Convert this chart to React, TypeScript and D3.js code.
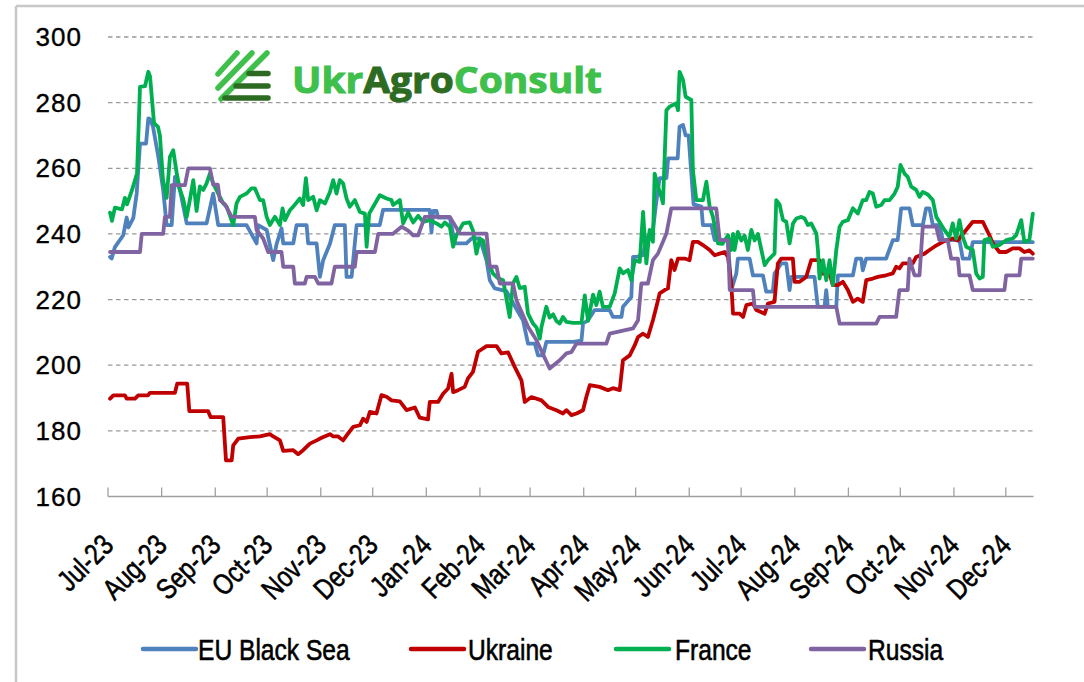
import React from 'react';
import * as d3 from 'd3';

// ---------- data ----------
const START = Date.UTC(2023, 6, 1);
const END = Date.UTC(2024, 11, 17);
const DAY = 86400000;

const seriesNames = ['EU Black Sea', 'Ukraine', 'France', 'Russia'];
const seriesColors = ['#4f81bd', '#c00000', '#00b050', '#8064a2'];
const yTicks = [160, 180, 200, 220, 240, 260, 280, 300];

// [days since 1 Jul 2023, USD/t]
const euBlackSea: [number, number][] = [
  [1.2, 233], [2.1, 232.5], [4, 236], [8.8, 239.6], [10.8, 245], [11.8, 242], [14.6, 244.8], [16.6, 252.4],
  [18.5, 267.5], [22, 267.5], [23.3, 275.2], [24.3, 275], [26, 272.7], [29.1, 263.5], [31.9, 253.4], [33.9, 242.7],
  [36.8, 242.7], [38.7, 257.4], [41.6, 253.4], [45.5, 243.2], [57, 243.2], [60.8, 252.3], [63.7, 242.7], [80.1, 242.7],
  [85.9, 237.1], [86.8, 242.7], [91.7, 241.2], [95.5, 232], [97.5, 237], [100.3, 241.7], [101.3, 237.1], [107.1, 237.1],
  [109, 242.7], [114.8, 242.7], [115.7, 237.1], [120.6, 237.1], [122.5, 226.9], [124.4, 232], [128.3, 237], [131.1, 242.7],
  [136.9, 242.7], [137.9, 226.9], [140.8, 226.9], [143.7, 242.7], [157.1, 242.7], [159, 247.3], [186, 247.3], [187, 240.5],
  [188, 247], [189.9, 247], [190.8, 245], [197.6, 245], [200.5, 237.1], [207.2, 237.1], [210.1, 238.6], [214.9, 238.6],
  [218.8, 232], [220.7, 225.9], [223.6, 223.4], [230.3, 222.6], [233.2, 219.8], [239.9, 213.7], [242.8, 206.6], [246.7, 206.6],
  [248.6, 203], [251.5, 203], [253.4, 207.1], [268.8, 207.1], [273.7, 207.5], [274.6, 212.7], [277.5, 213.7], [281.3, 216.8],
  [290, 216.8], [291.9, 214.7], [296.8, 214.7], [297.7, 217.8], [302.5, 220.8], [303.5, 233], [305.4, 233], [309.3, 233.5],
  [311.2, 238.6], [315, 241.2], [317, 250], [318.9, 257], [322.8, 257], [323.8, 263], [329.3, 263], [330.4, 272.7],
  [332.4, 273.2], [333.9, 270], [335.6, 270], [337.2, 258.4], [338.5, 249], [343, 248.3], [343.9, 242.7], [348.8, 242.7],
  [350.7, 238.1], [358.3, 238.1], [360.3, 222.9], [363.2, 227.9], [364.1, 232.5], [370.9, 232.5], [372.8, 227.4], [378.6, 227.4],
  [380.5, 222.4], [384.3, 222.4], [385.3, 227.9], [389.2, 231], [392.1, 231], [394, 222.9], [395, 226.9], [408.4, 226.9],
  [410.3, 217.8], [414.2, 217.8], [415.2, 222.9], [416.1, 217.8], [421, 217.8], [421.9, 227.4], [430.6, 227.4], [432.5, 232.5],
  [435.4, 232.5], [436.3, 228.9], [438.3, 232.5], [449.8, 232.5], [453.7, 238.1], [456.5, 238.1], [458.5, 247.8], [463.3, 247.8],
  [465.2, 242.7], [471, 242.7], [472.9, 247.8], [474.9, 247.8], [476.8, 242.7], [480.6, 242.7], [482.6, 238.1], [492.2, 238.1],
  [494.1, 232.5], [498, 232.5], [499.9, 237.5], [534.6, 237.5],
];

const ukraine: [number, number][] = [
  [1.2, 189.8], [3.1, 190.8], [9.8, 190.8], [10.8, 189.8], [15.6, 189.8], [17.5, 190.8], [23.1, 190.8], [24.3, 191.6],
  [38.7, 191.6], [40, 194.4], [45.8, 194.4], [47, 186], [57.9, 186], [59.3, 184.2], [66.6, 184.2], [68.2, 171],
  [71.5, 171], [72.4, 175.6], [75.3, 177.6], [82, 178.1], [87.8, 178.3], [93.6, 179], [95.5, 178.3], [99.4, 177.1],
  [101.3, 173.9], [107.1, 174.1], [109.9, 172.9], [112.8, 174.1], [116.7, 176.1], [120.6, 177.1], [123.5, 177.9], [128.3, 179],
  [130.2, 178.3], [133, 178.3], [135.9, 177.1], [138.8, 179.2], [141.7, 181.2], [145.6, 181.7], [147.5, 183.7], [149.5, 182.7],
  [151.4, 185.8], [155.2, 185.3], [158.1, 190.9], [161, 190.4], [163.9, 189.3], [168.7, 189], [172.6, 186.3], [177.4, 187.1],
  [180.2, 184], [185, 183.5], [186, 188.8], [190.8, 188.8], [193.7, 191.3], [196.6, 192.9], [198.6, 197.4], [199.5, 191.8],
  [202.4, 192.4], [206.2, 193.4], [208.1, 196], [211, 198], [213.9, 204.1], [218.8, 205.8], [224.6, 205.8], [227.4, 203.6],
  [231.3, 203.9], [235.1, 199.5], [239, 195.4], [240.9, 188.8], [244.8, 190.3], [250.6, 189.3], [254.4, 187.3], [259.2, 186.3],
  [263, 185.3], [265, 186.3], [267.9, 184.8], [270.8, 185.3], [274.6, 186.3], [276.5, 190.3], [278.5, 193.9], [284.2, 193.4],
  [289, 192.4], [291.9, 193], [295.8, 192.4], [297.7, 201.5], [301.6, 203], [304.5, 206.1], [306.4, 208.6], [309.3, 209.6],
  [312.1, 208.6], [315, 213.7], [317, 217.8], [318.9, 221.9], [321.8, 222.9], [323.7, 223.4], [325.6, 232], [327.5, 229],
  [329.5, 232.5], [333.3, 232.5], [336.2, 232], [338.1, 237.6], [341, 237.6], [343.9, 236.6], [347.8, 235.1], [350.7, 233.5],
  [353.6, 234], [356.5, 234.5], [358.4, 233], [360.3, 224.9], [361.3, 215.7], [365.1, 215.7], [367.1, 214.7], [369, 218.3],
  [372.8, 218.8], [374.8, 216.8], [379.6, 215.7], [381.5, 218.8], [385.3, 219.3], [387.2, 231], [389.2, 232.5], [395.9, 232.5],
  [396.9, 225.4], [399.8, 225.4], [403.6, 226.9], [406.5, 232], [411.3, 232], [412.3, 227.9], [417.1, 228], [419, 224.4],
  [421.9, 224.4], [424.8, 225.4], [427.7, 222.9], [430.6, 219.3], [433.4, 220.3], [436.3, 219.3], [438.3, 225.9], [442.1, 226.4],
  [445, 226.9], [449.8, 227.4], [453.7, 228], [455.6, 230], [457.5, 229.5], [459.4, 231], [465.2, 231], [467.2, 233],
  [472, 234], [474.9, 235.1], [477.7, 236.1], [482.6, 237.6], [488.3, 238.6], [491.1, 238], [495.1, 240.6], [499.9, 243.7],
  [505.7, 243.7], [509.5, 239.6], [511.5, 237.1], [515.3, 234.5], [519.2, 234.5], [523, 235.6], [526.9, 235.6], [529.7, 234.5],
  [532.6, 235], [534.6, 234],
];

const france: [number, number][] = [
  [1.2, 246.5], [2.3, 244], [4, 248], [8.1, 247.5], [9.8, 251], [11, 249], [13.9, 253.4], [16.8, 258.5],
  [18.5, 284.8], [21.4, 285], [23.3, 289.4], [24.3, 288], [26.6, 273.8], [28.9, 272.6], [30, 270], [31.8, 256.4],
  [33.9, 251], [35.8, 263.5], [37.7, 265.5], [39.7, 258.6], [41.6, 253.4], [43.5, 250.6], [45.5, 245.2], [47.4, 250.6],
  [49.3, 256.4], [51.2, 247], [53.1, 254.5], [55.1, 253.4], [57, 255.4], [58.9, 258.4], [60.8, 255.4], [63.7, 252.3],
  [66.6, 249.3], [68.6, 248.3], [72.4, 242.7], [74.3, 249.3], [76.3, 251.3], [80.1, 252.3], [83, 253.9], [84.9, 253.9],
  [87.8, 250.3], [89.7, 250.3], [91.7, 245.2], [93.6, 242.7], [96.5, 245.2], [99.4, 242.7], [100.9, 247.8], [102.3, 244.2],
  [105.1, 247.2], [107.1, 248.3], [110.9, 250.8], [112.8, 248.8], [114.4, 257], [115.7, 250.3], [118.6, 251.3], [120.6, 247.2],
  [122.5, 250.3], [125.4, 249.3], [128.3, 252.8], [130.2, 256.4], [132.1, 252.3], [134, 256.4], [135.9, 255.4], [137.9, 250.8],
  [139.8, 248.3], [142.7, 250.3], [145.6, 246.7], [148.5, 246.2], [149.5, 236.1], [151, 246.2], [153.3, 248.3], [157.1, 251.8],
  [161, 250.8], [163.9, 250.3], [164.8, 248.8], [168.7, 250.3], [170.6, 243.2], [173.5, 246.5], [176.4, 243.5], [179.3, 245.5],
  [182.1, 243.7], [186, 244.2], [189.9, 243.2], [192.8, 242.2], [194.7, 243.5], [197.6, 242.2], [199.5, 236.1], [201.4, 239.6],
  [205.3, 243.2], [209.1, 243.5], [211, 241], [213, 234], [214.9, 238.5], [216.8, 238], [219.7, 231.5], [222.6, 227.9],
  [225.5, 226.5], [228.4, 225.9], [232.2, 214.7], [234.1, 224.9], [236.1, 226.9], [238, 223.5], [240.9, 223.9], [242.8, 215.7],
  [245.7, 212.7], [247.7, 211.5], [249.6, 208.1], [250.6, 211.7], [253.4, 217.8], [255.3, 214.5], [257.3, 215.5], [259.2, 213.5],
  [261.1, 212.7], [263, 214.7], [265, 213.2], [268.8, 212.9], [273.7, 212.9], [275.6, 221.3], [277.5, 213.5], [280.4, 221.5],
  [282.3, 218.3], [284.2, 222.4], [286.1, 217.8], [290, 217.8], [292.9, 221.9], [295.8, 229.5], [297.7, 228], [300.6, 229],
  [302.5, 225.9], [304.5, 232], [307.4, 231.5], [309.3, 246.7], [311.2, 231], [313.1, 241.2], [315, 237.6], [316, 258.4],
  [317.9, 254.4], [319.9, 251.3], [320.8, 249.3], [322.8, 277.7], [324.7, 278.8], [328.5, 279.8], [329.5, 277.7], [330.4, 289.4],
  [332.4, 286.9], [333.9, 281.8], [337.2, 280.8], [338.1, 259.5], [340.1, 250.3], [343.9, 250.3], [345.9, 255.9], [347.8, 248.3],
  [349.7, 245.2], [352.6, 237.1], [355.3, 237], [358.4, 239.6], [360.3, 235.1], [361.3, 240], [362.2, 235.1], [364.1, 240.6],
  [366.1, 238], [368, 239.5], [369.9, 235.1], [371.9, 241.2], [373.8, 238], [375.7, 240], [377.7, 235.1], [379.6, 230.5],
  [381.5, 232], [385.3, 234], [386.3, 250.3], [388.2, 249], [390.2, 244.2], [392.1, 243.7], [394, 237.1], [396, 243.2],
  [397.9, 244.7], [400.8, 245.2], [402.7, 244.7], [404.6, 242.7], [406.5, 243.2], [409.5, 240.1], [410.4, 235], [411.3, 226.4],
  [413.3, 232], [415.2, 225.9], [417.1, 232], [419, 224.4], [421, 235.1], [422.9, 242.2], [424.8, 243.7], [427.7, 244.2],
  [430.6, 247.8], [433.4, 246.2], [436.3, 250.3], [438.3, 250.3], [440.2, 252.8], [442.1, 252.3], [444.1, 248.3], [447, 248.8],
  [448.9, 250.3], [451.8, 250.3], [454.7, 252.3], [456.5, 254.4], [458.1, 261], [460.4, 258.4], [462.3, 257.4], [464.3, 254.4],
  [467.2, 253.4], [469.1, 251.3], [471, 252.8], [473.9, 252], [476.8, 250.3], [478.8, 245.2], [480.6, 243.7], [483.5, 241.2],
  [486.4, 239.1], [488.3, 243.2], [490.3, 238.6], [492.2, 244.2], [494.1, 239.1], [496.1, 236.1], [499.9, 235.1], [501.9, 227.9],
  [503.8, 226.4], [505.7, 226.9], [506.6, 238.1], [509.5, 238.6], [511.5, 236.1], [515.3, 236.6], [519.2, 238.1], [523, 238.6],
  [525, 239.6], [527.9, 244.2], [529.7, 237.6], [532.6, 238.1], [534.6, 246.2],
];

const russia: [number, number][] = [
  [1.2, 234.5], [18.5, 234.5], [19.5, 240], [31.9, 240], [32.9, 245.2], [35.8, 245.2], [36.8, 254.9], [44.5, 254.9],
  [46.4, 260], [58.9, 260], [60.8, 255], [63.5, 255], [64.7, 250.3], [67.6, 249], [71.5, 245.2], [84.9, 245.2],
  [85.9, 241.2], [89.7, 238.6], [92.6, 234.5], [100.3, 234.5], [101.3, 230], [107.1, 230], [108, 224.9], [113.8, 224.9],
  [114.8, 226.9], [119.6, 226.9], [121.5, 224.9], [129.2, 224.9], [131.1, 230], [142.7, 230], [143.7, 234.5], [154.3, 234.5],
  [156.2, 240], [164.6, 240], [169.7, 242.2], [173.5, 241], [176.4, 239.6], [179.3, 239.6], [183.1, 245.2], [197.6, 245.2],
  [203.4, 240.1], [218.8, 240.1], [220.7, 230], [224.6, 230], [226.5, 224.9], [234.1, 224.9], [236.1, 219.8], [242.8, 211.7],
  [247.7, 207.6], [255.3, 199], [261.1, 201.5], [265, 203.6], [267.9, 204], [270.8, 206.6], [288.1, 206.6], [290, 209.6],
  [303.5, 211.2], [306.4, 213.7], [308.3, 224.9], [312.1, 224.9], [315, 232], [317.9, 234], [322.8, 240.1], [325.6, 247.8],
  [351.6, 247.8], [353.6, 238.1], [358.4, 238.1], [359.4, 222.9], [372.8, 222.9], [373.8, 217.8], [421, 217.8], [422.9, 212.7],
  [444.1, 212.7], [446, 214.7], [455.6, 214.7], [457.5, 222.9], [462.3, 222.9], [463.3, 232.5], [466.2, 227.4], [469.1, 227.4],
  [471, 242.2], [478.8, 242.2], [480.6, 238.1], [485.4, 238.1], [487.4, 232.5], [491.3, 232.5], [492.2, 227.4], [498, 227.4],
  [499.9, 222.9], [518.2, 222.9], [519.2, 227.4], [526.9, 227.4], [527.9, 232.5], [534.6, 232.5],
];

const seriesData = [euBlackSea, ukraine, france, russia];

// ---------- layout ----------
const W = 1084;
const H = 682;
const plotLeft = 108;
const plotRight = 1033.5;
const plotTop = 37;
const plotBottom = 496.5;

const x = d3.scaleUtc().domain([new Date(START), new Date(END)]).range([plotLeft, plotRight]);
const y = d3.scaleLinear().domain([160, 300]).range([plotBottom, plotTop]);
const monthTicks = d3.utcMonth.range(new Date(START), new Date(Date.UTC(2024, 11, 2)));
const fmt = d3.utcFormat('%b-%y');

const line = d3
  .line<[number, number]>()
  .x((d) => x(new Date(START + d[0] * DAY)))
  .y((d) => y(d[1]));

const legendItems = [
  { lx: 143, tx: 198 },
  { lx: 411, tx: 468 },
  { lx: 616, tx: 675 },
  { lx: 811, tx: 868 },
];

const FONT = "'Liberation Sans', Arial, sans-serif";

export default function App() {
  return (
    <svg
      width={W}
      height={H}
      viewBox={`0 0 ${W} ${H}`}
      style={{ position: 'absolute', left: 0, top: 0, background: '#fff' }}
      fontFamily={FONT}
    >
      <rect x={0} y={0} width={W} height={H} fill="#fff" />
      {/* chart frame */}
      <line x1={16} y1={6} x2={W} y2={6} stroke="#c8c8c8" strokeWidth={2.5} />
      <line x1={16} y1={6} x2={16} y2={H} stroke="#c8c8c8" strokeWidth={2.5} />

      {/* gridlines */}
      {yTicks.slice(1).map((t) => (
        <line
          key={t}
          x1={plotLeft}
          x2={plotRight}
          y1={y(t)}
          y2={y(t)}
          stroke="#9a9a9a"
          strokeWidth={1.3}
          strokeDasharray="4.5,3.5"
        />
      ))}

      {/* y labels */}
      {yTicks.map((t) => (
        <text
          key={t}
          x={82}
          y={y(t)}
          dy="0.35em"
          textAnchor="end"
          fontSize={26}
          letterSpacing={1}
          fill="#000"
          stroke="#000"
          strokeWidth={0.35}
        >
          {t}
        </text>
      ))}

      {/* x axis */}
      <line x1={plotLeft} x2={plotRight} y1={plotBottom} y2={plotBottom} stroke="#a0a0a0" strokeWidth={1.5} />
      {monthTicks.map((m) => (
        <line key={+m} x1={x(m)} x2={x(m)} y1={plotBottom} y2={plotBottom - 9} stroke="#a0a0a0" strokeWidth={1.3} />
      ))}
      {monthTicks.map((m) => (
        <text
          key={'l' + +m}
          transform={`translate(${x(m) + 7},547) rotate(-45) scale(0.82,1)`}
          textAnchor="end"
          fontSize={29}
          fill="#000"
          stroke="#000"
          strokeWidth={0.6}
        >
          {fmt(m)}
        </text>
      ))}

      {/* logo */}
      <g strokeLinecap="round" strokeWidth={5.5} fill="none">
        <line x1={218} y1={74} x2={237} y2={53} stroke="#3fc04c" />
        <line x1={218} y1={88} x2={252} y2={53} stroke="#3fc04c" />
        <line x1={221} y1={99} x2={267} y2={53} stroke="#3fc04c" />
        <line x1={249} y1={73.5} x2={268} y2={73.5} stroke="#2e6b22" />
        <line x1={236} y1={86} x2={268} y2={86} stroke="#2e6b22" />
        <line x1={225} y1={98} x2={268} y2={98} stroke="#2e6b22" />
      </g>
      <text
        x={292}
        y={93}
        fontSize={36}
        fontWeight={700}
        fontFamily="'Open Sans', 'Noto Sans', sans-serif"
        textLength={310}
        lengthAdjust="spacingAndGlyphs"
        strokeWidth={1}
      >
        <tspan fill="#3fc04c" stroke="#3fc04c">Ukr</tspan>
        <tspan fill="#2e6b22" stroke="#2e6b22">Agro</tspan>
        <tspan fill="#3fc04c" stroke="#3fc04c">Consult</tspan>
      </text>

      {/* series */}
      {seriesData.map((s, i) => (
        <path
          key={seriesNames[i]}
          d={line(s) || ''}
          fill="none"
          stroke={seriesColors[i]}
          strokeWidth={3.8}
          strokeLinejoin="round"
          strokeLinecap="round"
        />
      ))}

      {/* legend */}
      {legendItems.map((it, i) => (
        <g key={seriesNames[i]}>
          <line
            x1={it.lx}
            x2={it.lx + 53}
            y1={649}
            y2={649}
            stroke={seriesColors[i]}
            strokeWidth={4.5}
            strokeLinecap="round"
          />
          <text
            transform={`translate(${it.tx},659.5) scale(0.82,1)`}
            fontSize={30}
            fill="#000"
            stroke="#000"
            strokeWidth={0.6}
          >
            {seriesNames[i]}
          </text>
        </g>
      ))}
    </svg>
  );
}
